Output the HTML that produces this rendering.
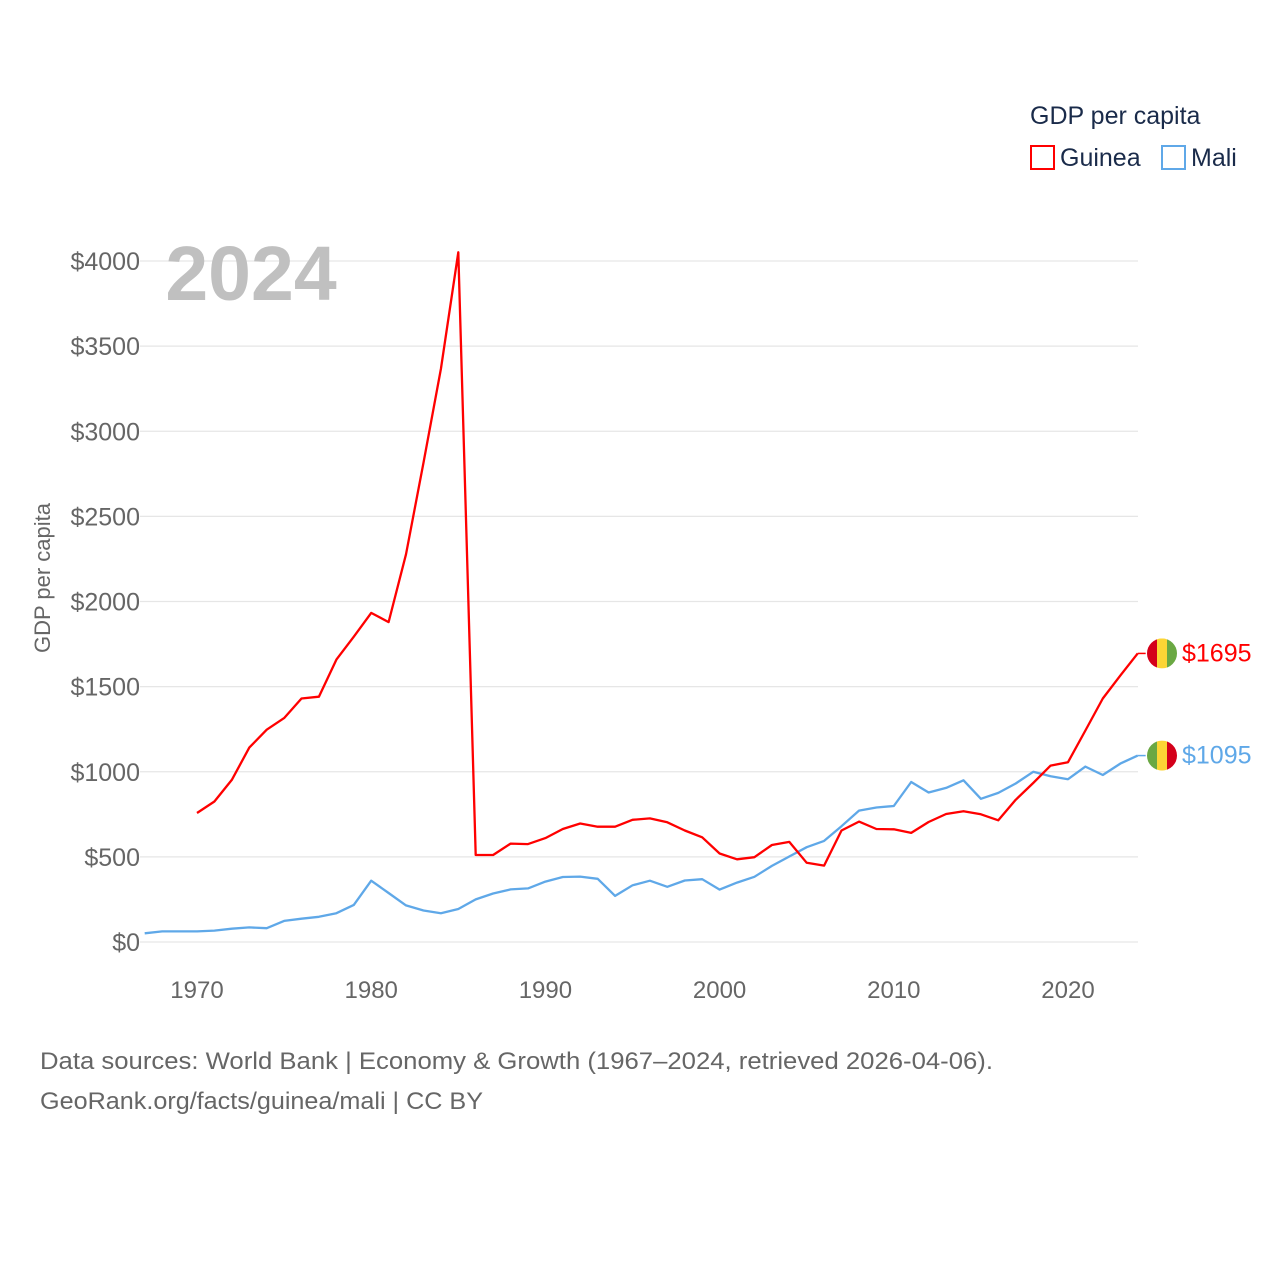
<!DOCTYPE html>
<html><head><meta charset="utf-8"><style>
body{margin:0;background:#fff;font-family:"Liberation Sans",sans-serif;}
svg text{font-family:"Liberation Sans",sans-serif;}
</style></head><body>
<svg id="chart" width="1280" height="1280" viewBox="0 0 1280 1280">
<rect width="1280" height="1280" fill="#fff"/>
<g id="grid"></g>
<g id="yticks"></g>
<g id="xticks"></g>
<text x="251" y="300" font-size="77" font-weight="bold" fill="#c0c0c0" text-anchor="middle">2024</text>
<text transform="translate(50,578) rotate(-90)" font-size="22" fill="#666" text-anchor="middle">GDP per capita</text>
<g id="series"></g>
<g>
<text x="1030" y="124" font-size="25" fill="#1a2b4a">GDP per capita</text>
<g><rect x="1031" y="146" width="23" height="23" fill="none" stroke="#ff0000" stroke-width="2"/><text x="1060" y="166" font-size="25" fill="#1a2b4a">Guinea</text></g>
<g><rect x="1162" y="146" width="23" height="23" fill="none" stroke="#5fa8e8" stroke-width="2"/><text x="1191" y="166" font-size="25" fill="#1a2b4a">Mali</text></g>
</g>
<text x="40" y="1069" font-size="24" fill="#666" textLength="953" lengthAdjust="spacingAndGlyphs">Data sources: World Bank | Economy &amp; Growth (1967–2024, retrieved 2026-04-06).</text>
<text x="40" y="1109" font-size="24" fill="#666" textLength="443" lengthAdjust="spacingAndGlyphs">GeoRank.org/facts/guinea/mali | CC BY</text>
</svg>
<script>
const years=[];for(let y=1967;y<=2024;y++)years.push(y);
const guinea=[null,null,null,758,825,952,1142,1247,1315,1430,1441,1659,1793,1933,1879,2277,2815,3366,4051,511,511,578,575,610,664,696,677,677,718,726,703,655,615,520,486,498,570,588,465,449,655,707,664,662,641,705,752,768,750,715,835,934,1036,1056,1242,1430,1565,1695];
const mali=[51,62,62,62,67,78,86,81,124,137,148,169,218,360,288,215,185,169,194,250,285,309,315,355,382,384,371,271,333,360,324,361,369,308,349,383,447,502,557,594,680,772,790,799,940,878,905,950,841,876,931,1000,974,956,1030,981,1048,1095];
const yTicks=[0,500,1000,1500,2000,2500,3000,3500,4000];
const xTicks=[1970,1980,1990,2000,2010,2020];
const X=v=>197+(v-1970)*(1068-197)/50;
const Y=v=>942-v*(942-261)/4000;
const NS="http://www.w3.org/2000/svg";
function mk(t,a,p){const e=document.createElementNS(NS,t);for(const k in a)e.setAttribute(k,a[k]);p.appendChild(e);return e;}
const grid=document.getElementById('grid'),yt=document.getElementById('yticks'),xt=document.getElementById('xticks'),ser=document.getElementById('series');
yTicks.forEach(v=>{
 const l=mk('line',{x1:140,x2:1138,y1:Y(v),y2:Y(v),stroke:'#e6e6e6','stroke-width':1.3},grid);
 
 
 const t=mk('text',{x:140,y:Y(v)+9,'font-size':25,fill:'#666','text-anchor':'end'},yt);
 t.textContent='$'+v;
 
 
});
xTicks.forEach(v=>{
 const t=mk('text',{x:X(v),y:998,'font-size':24,fill:'#666','text-anchor':'middle'},xt);
 t.textContent=v;
 
 
});
function line(data,color,name){
 let d='';data.forEach((v,i)=>{if(v==null)return;d+=(d?'L':'M')+X(years[i]).toFixed(1)+','+Y(v).toFixed(1);});
 const p=mk('path',{d:d,fill:'none',stroke:color,'stroke-width':2.3,'stroke-linejoin':'round'},ser);
 
 
}
line(mali,'#5fa8e8','mali-line');
line(guinea,'#ff0000','guinea-line');
function endLabel(val,color,cols,name){
 const y=Y(val),x0=X(2024);
 const g=mk('g',{},ser);
 
 
 mk('line',{x1:x0,x2:x0+8,y1:y,y2:y,stroke:color,'stroke-width':1.5},g);
 const cid='c'+name;
 const cp=mk('clipPath',{id:cid},g);mk('circle',{cx:1162,cy:y,r:15},cp);
 cols.forEach((c,i)=>mk('rect',{x:1147+i*10,y:y-15,width:10,height:30,fill:c,'clip-path':'url(#'+cid+')'},g));
 const t=mk('text',{x:1182,y:y+8,'font-size':25,fill:color},g);
 t.textContent='$'+val;
}
endLabel(guinea[guinea.length-1],'#ff0000',['#d4001a','#fcd535','#6aa843'],'guinea-end-label');
endLabel(mali[mali.length-1],'#5fa8e8',['#6aa843','#fcd535','#d4001a'],'mali-end-label');
</script>
</body></html>
